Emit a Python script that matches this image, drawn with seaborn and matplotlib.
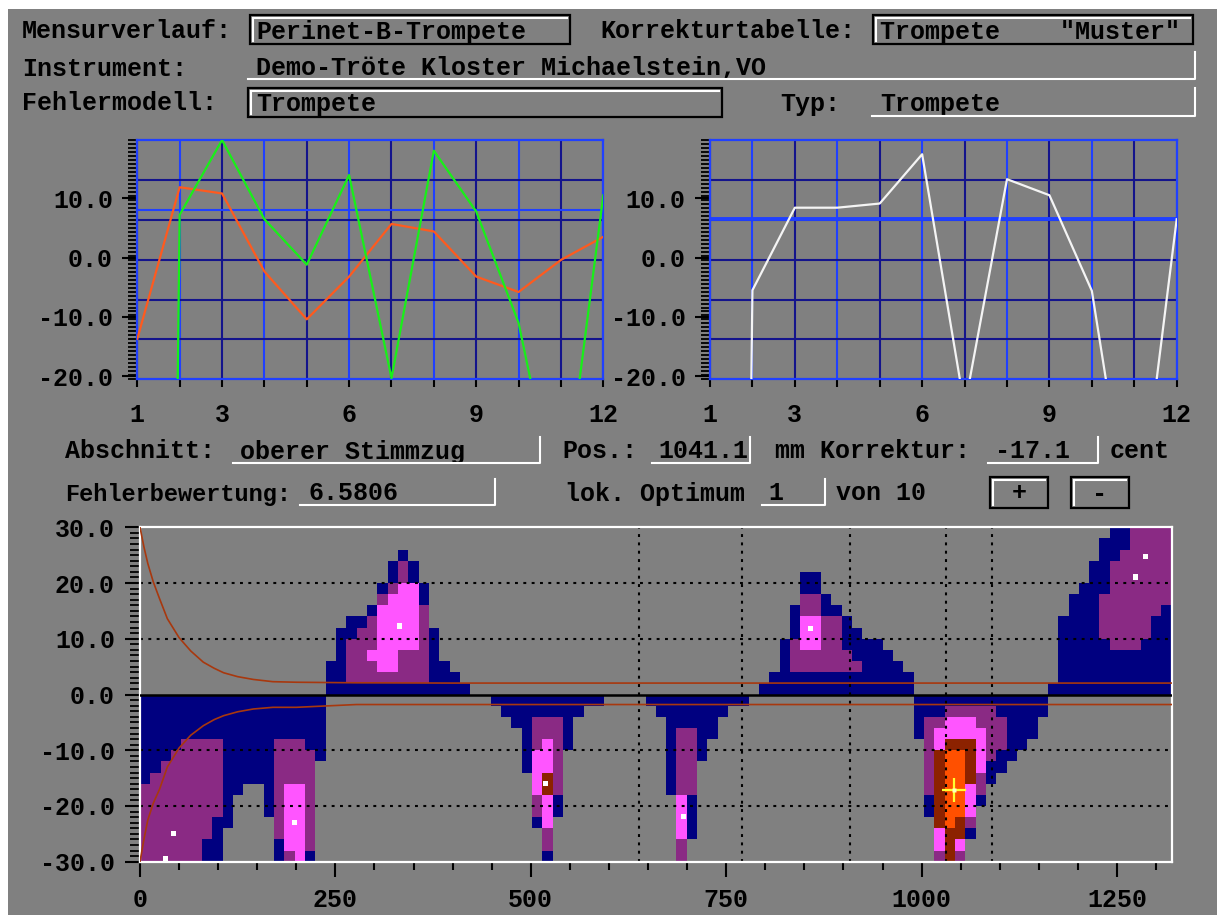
import numpy as np
import pandas as pd
import matplotlib
matplotlib.use("Agg")
import matplotlib.pyplot as plt
import seaborn as sns
from matplotlib.colors import ListedColormap
from matplotlib.lines import Line2D
from matplotlib.patches import Rectangle
from matplotlib.ticker import FixedLocator

plt.rcParams["font.family"] = ["Liberation Mono", "DejaVu Sans Mono"]
plt.rcParams["font.weight"] = "bold"
plt.rcParams["font.size"] = 18

# ---------------- top panels: deviation per partial (cent) ----------------
partials = list(range(1, 13))
dev_measured = [-13.7, 11.85, 10.8, -2.35, -10.4, -3.2, 5.67, 4.4, -3.2, -5.8, -0.4, 3.5]
dev_model = [-600.0, 7.2, 19.8, 6.46, -1.2, 13.9, -20.3, 18.0, 7.75, -11.0, -45.0, 10.5]
dev_corrected = [-600.0, -5.5, 8.4, 8.4, 9.1, 17.4, -25.2, 13.2, 10.5, -5.6, -50.6, 6.45]
measured_mean = 8.0
corrected_mean = 6.55
top_ylim = (-20.5, 19.8)
top_yticks = [-20, -10, 0, 10]
top_ylabels = ["-20.0", "-10.0", "0.0", "10.0"]
top_xlabels = ["1", "", "3", "", "", "6", "", "", "9", "", "", "12"]

# ---------------- bottom panel: error map (position mm x correction cent) ----------------
map_length_mm = 1320
map_cols = 100
map_rows = 30
map_cent_range = 30
level_colors = ["#808080", "#000080", "#8a2a84", "#ff55ff", "#8c2200", "#ff5000"]
# per column: (first row, last row, level); rows counted from +30 cent downwards
column_runs = {
    0: [(15, 22, 1), (23, 29, 2)],
    1: [(15, 21, 1), (22, 29, 2)],
    2: [(15, 20, 1), (21, 29, 2)],
    3: [(15, 19, 1), (20, 29, 2)],
    4: [(15, 18, 1), (19, 29, 2)],
    5: [(15, 18, 1), (19, 29, 2)],
    6: [(15, 18, 1), (19, 27, 2), (28, 29, 1)],
    7: [(15, 18, 1), (19, 25, 2), (26, 29, 1)],
    8: [(15, 26, 1)],
    9: [(15, 23, 1)],
    10: [(15, 22, 1)],
    11: [(15, 22, 1)],
    12: [(15, 25, 1)],
    13: [(15, 18, 1), (19, 27, 2), (28, 29, 1)],
    14: [(15, 18, 1), (19, 22, 2), (23, 28, 3), (29, 29, 2)],
    15: [(15, 18, 1), (19, 22, 2), (23, 29, 3)],
    16: [(15, 19, 1), (20, 28, 2), (29, 29, 1)],
    17: [(15, 20, 1)],
    18: [(12, 14, 1)],
    19: [(9, 14, 1)],
    20: [(8, 9, 1), (10, 13, 2), (14, 14, 1)],
    21: [(8, 8, 1), (9, 13, 2), (14, 14, 1)],
    22: [(7, 7, 1), (8, 10, 2), (11, 11, 3), (12, 13, 2), (14, 14, 1)],
    23: [(5, 5, 1), (6, 6, 2), (7, 12, 3), (13, 13, 2), (14, 14, 1)],
    24: [(3, 4, 1), (5, 5, 2), (6, 12, 3), (13, 13, 2), (14, 14, 1)],
    25: [(2, 2, 1), (3, 4, 2), (5, 10, 3), (11, 13, 2), (14, 14, 1)],
    26: [(3, 4, 1), (5, 10, 3), (11, 13, 2), (14, 14, 1)],
    27: [(5, 6, 1), (7, 13, 2), (14, 14, 1)],
    28: [(9, 14, 1)],
    29: [(12, 14, 1)],
    30: [(13, 14, 1)],
    31: [(14, 14, 1)],
    34: [(15, 15, 1)],
    35: [(15, 16, 1)],
    36: [(15, 17, 1)],
    37: [(15, 21, 1)],
    38: [(15, 16, 1), (17, 19, 2), (20, 23, 3), (24, 25, 2), (26, 26, 1)],
    39: [(15, 16, 1), (17, 18, 2), (19, 21, 3), (22, 23, 4), (24, 26, 3), (27, 28, 2), (29, 29, 1)],
    40: [(15, 16, 1), (17, 23, 2), (24, 25, 1)],
    41: [(15, 19, 1)],
    42: [(15, 16, 1)],
    43: [(15, 15, 1)],
    44: [(15, 15, 1)],
    49: [(15, 15, 1)],
    50: [(15, 16, 1)],
    51: [(15, 23, 1)],
    52: [(15, 17, 1), (18, 23, 2), (24, 27, 3), (28, 29, 2)],
    53: [(15, 17, 1), (18, 23, 2), (24, 27, 1)],
    54: [(15, 20, 1)],
    55: [(15, 18, 1)],
    56: [(15, 16, 1)],
    57: [(15, 15, 1)],
    58: [(15, 15, 1)],
    60: [(14, 14, 1)],
    61: [(13, 14, 1)],
    62: [(10, 14, 1)],
    63: [(7, 9, 1), (10, 12, 2), (13, 14, 1)],
    64: [(4, 5, 1), (6, 7, 2), (8, 10, 3), (11, 12, 2), (13, 14, 1)],
    65: [(4, 5, 1), (6, 7, 2), (8, 10, 3), (11, 12, 2), (13, 14, 1)],
    66: [(6, 7, 1), (8, 12, 2), (13, 14, 1)],
    67: [(7, 7, 1), (8, 12, 2), (13, 14, 1)],
    68: [(8, 10, 1), (11, 12, 2), (13, 14, 1)],
    69: [(9, 11, 1), (12, 12, 2), (13, 14, 1)],
    70: [(10, 14, 1)],
    71: [(10, 14, 1)],
    72: [(11, 14, 1)],
    73: [(12, 14, 1)],
    74: [(13, 14, 1)],
    75: [(15, 18, 1)],
    76: [(15, 16, 1), (17, 23, 2), (24, 25, 1)],
    77: [(15, 16, 1), (17, 17, 2), (18, 19, 3), (20, 26, 4), (27, 28, 3), (29, 29, 2)],
    78: [(15, 15, 1), (16, 16, 2), (17, 18, 3), (19, 19, 4), (20, 26, 5), (27, 29, 4)],
    79: [(15, 15, 1), (16, 16, 2), (17, 18, 3), (19, 19, 4), (20, 25, 5), (26, 27, 4), (28, 28, 3), (29, 29, 2)],
    80: [(15, 15, 1), (16, 16, 2), (17, 18, 3), (19, 22, 4), (23, 25, 3), (26, 26, 2), (27, 27, 1)],
    81: [(15, 15, 1), (16, 17, 2), (18, 21, 3), (22, 23, 2), (24, 24, 1)],
    82: [(15, 15, 1), (16, 20, 2), (21, 22, 1)],
    83: [(15, 16, 1), (17, 19, 2), (20, 21, 1)],
    84: [(15, 20, 1)],
    85: [(15, 19, 1)],
    86: [(15, 18, 1)],
    87: [(15, 16, 1)],
    88: [(14, 14, 1)],
    89: [(8, 14, 1)],
    90: [(6, 14, 1)],
    91: [(5, 14, 1)],
    92: [(3, 14, 1)],
    93: [(1, 5, 1), (6, 9, 2), (10, 14, 1)],
    94: [(0, 2, 1), (3, 10, 2), (11, 14, 1)],
    95: [(0, 1, 1), (2, 10, 2), (11, 14, 1)],
    96: [(0, 10, 2), (11, 14, 1)],
    97: [(0, 9, 2), (10, 14, 1)],
    98: [(0, 7, 2), (8, 14, 1)],
    99: [(0, 6, 2), (7, 14, 1)],
}
tolerance_pos = [0, 5, 10, 17, 25, 35, 50, 65, 81, 95, 107, 125, 145, 170, 200, 277, 400, 1320]
tolerance_upper = [30, 26.5, 23.5, 20.2, 17.2, 13.6, 10.2, 7.8, 5.8, 4.7, 3.9, 3.2, 2.7, 2.3, 2.2, 2.1, 2.05, 2.05]
tolerance_lower = [-30, -26, -22.5, -19.5, -17.0, -13.0, -9.6, -7.3, -5.6, -4.5, -3.8, -3.1, -2.6, -2.3, -2.3, -1.8, -1.8, -1.8]
optima_pos = [42.6, 32.8, 198, 332, 519, 695, 857.6, 1286, 1273.7]
optima_cent = [-25.0, -29.5, -22.9, 12.3, -15.9, -21.9, 11.9, 24.8, 21.1]
best_pos = 1041.1
best_cent = -17.1
section_bounds = [638.5, 770.7, 908.8, 1030.7, 1089.5]
map_xticks = [0, 250, 500, 750, 1000, 1250]
map_yticks = [-30, -20, -10, 0, 10, 20, 30]

# ---------------- form fields ----------------
W, H = 1217, 915
GRAY = "#808080"
FS = 18

fig = plt.figure(figsize=(W / 100, H / 100), dpi=100, facecolor="white")


def fx(x):
    return x / W


def fy(y):
    return 1 - y / H


fig.add_artist(Rectangle((fx(8), 0), 1 - fx(8), fy(9), transform=fig.transFigure,
                         facecolor=GRAY, edgecolor="none", zorder=-10))


def text(x, y, s, size=FS, **kw):
    fig.text(fx(x), fy(y), s, ha=kw.pop("ha", "left"), va="baseline",
             fontsize=size, color="black", **kw)


def line(xs, ys, color="white", lw=1.5):
    fig.add_artist(Line2D([fx(v) for v in xs], [fy(v) for v in ys],
                          transform=fig.transFigure, color=color, lw=lw, zorder=5))


def box(x0, y0, x1, y1):
    fig.add_artist(Rectangle((fx(x0), fy(y1)), fx(x1) - fx(x0), fy(y0) - fy(y1),
                             transform=fig.transFigure, fill=False,
                             edgecolor="black", lw=1.6, zorder=5))
    line([x0 + 3, x1 - 3], [y0 + 3, y0 + 3])
    line([x0 + 3, x0 + 3], [y0 + 3, y1 - 3])


def field(x0, x1, y_top, y_line):
    line([x0, x1, x1], [y_line, y_line, y_top])


# header rows
text(22, 38.5, "Mensurverlauf:")
box(250, 15, 570, 44)
text(256, 38.5, "Perinet-B-Trompete")
text(600, 38.5, "Korrekturtabelle:")
box(873, 15, 1193, 44)
text(880, 38.5, 'Trompete    "Muster"')

text(22, 75.5, "Instrument:")
field(248, 1195, 52, 79)
text(256, 75.5, "Demo-Tröte Kloster Michaelstein,VO")

text(22, 110.5, "Fehlermodell:")
box(248, 88, 722, 117)
text(256, 110.5, "Trompete")
text(780, 110.5, "Typ:")
field(872, 1195, 88, 116)
text(880, 110.5, "Trompete")

# middle rows
text(65, 458.5, "Abschnitt:")
field(233, 540, 437, 463)
text(240, 458.5, "oberer Stimmzug")
text(562, 458.5, "Pos.:")
field(652, 750, 437, 463)
text(658, 458.5, f"{best_pos:.1f}")
text(775, 458.5, "mm Korrektur:")
field(988, 1098, 437, 463)
text(995, 458.5, f"{best_cent:.1f}")
text(1110, 458.5, "cent")

text(65, 500.5, "Fehlerbewertung:", size=17)
field(300, 495, 479, 505)
text(308, 500.5, "6.5806")
text(565, 500.5, "lok. Optimum")
field(762, 825, 479, 505)
text(768, 500.5, "1")
text(836, 500.5, "von 10")
box(990, 477, 1048, 508)
text(1019, 500.5, "+", ha="center")
box(1071, 477, 1129, 508)
text(1100, 500.5, "-", ha="center")

# ---------------- top panels ----------------
BRIGHT = "#2040ff"
DARK = "#14148c"
top_df = pd.DataFrame({"Teilton": partials, "Messung": dev_measured,
                       "Modell": dev_model, "Korrigiert": dev_corrected})


def setup_top(ax, mean_val, mean_lw):
    ax.set_facecolor(GRAY)
    ax.set_xlim(1, 12)
    ax.set_ylim(*top_ylim)
    for p in partials:
        ax.axvline(p, color=BRIGHT if p % 2 == 0 else DARK, lw=1.5, zorder=1)
    for g in np.linspace(top_ylim[0], top_ylim[1], 7)[1:-1]:
        ax.axhline(g, color=DARK, lw=1.5, zorder=1)
    ax.axhline(mean_val, color=BRIGHT, lw=mean_lw, zorder=2)
    for s in ax.spines.values():
        s.set_color(BRIGHT)
        s.set_linewidth(1.6)
    ax.xaxis.set_major_locator(FixedLocator(partials))
    ax.set_xticklabels(top_xlabels)
    ax.yaxis.set_major_locator(FixedLocator(top_yticks))
    ax.set_yticklabels(top_ylabels)
    ax.yaxis.set_minor_locator(FixedLocator(np.linspace(top_ylim[0], top_ylim[1], 61)))
    ax.tick_params(axis="y", which="major", length=11, width=1.5, color="black", pad=6.5)
    ax.tick_params(axis="y", which="minor", length=6.5, width=1.3, color="black")
    ax.tick_params(axis="x", which="major", length=6, width=1.5, color="black", pad=11)


top_h = (379.3 - 140) / H
top_b = fy(379.3)
ax_l = fig.add_axes([fx(137.3), top_b, 466 / W, top_h])
setup_top(ax_l, measured_mean, 1.5)
sns.lineplot(data=top_df, x="Teilton", y="Messung", ax=ax_l, color="#ff5a1e",
             lw=1.6, estimator=None, sort=False, zorder=4)
sns.lineplot(data=top_df, x="Teilton", y="Modell", ax=ax_l, color="#18f018",
             lw=1.6, estimator=None, sort=False, zorder=4)
ax_l.set_xlabel("")
ax_l.set_ylabel("")

ax_r = fig.add_axes([fx(710), top_b, 466.7 / W, top_h])
setup_top(ax_r, corrected_mean, 2.8)
sns.lineplot(data=top_df, x="Teilton", y="Korrigiert", ax=ax_r, color="#f4f4f4",
             lw=1.6, estimator=None, sort=False, zorder=4)
ax_r.set_xlabel("")
ax_r.set_ylabel("")

# ---------------- bottom panel: error map ----------------
levels = np.zeros((map_rows, map_cols), dtype=int)
for col, runs in column_runs.items():
    for r0, r1, lev in runs:
        levels[r0:r1 + 1, col] = lev
cell_w = map_length_mm / map_cols
cell_h = 2 * map_cent_range / map_rows
level_df = pd.DataFrame(
    levels,
    index=np.round(map_cent_range - cell_h * (np.arange(map_rows) + 0.5), 1),
    columns=np.round(cell_w * (np.arange(map_cols) + 0.5), 1),
)

rect_b = [fx(140), fy(861.7), (1171.7 - 140) / W, (861.7 - 527.3) / H]
ax_h = fig.add_axes(rect_b)
sns.heatmap(level_df, ax=ax_h, cmap=ListedColormap(level_colors), vmin=-0.5,
            vmax=len(level_colors) - 0.5, cbar=False, xticklabels=False,
            yticklabels=False)
ax_h.set_axis_off()

ax_b = fig.add_axes(rect_b, facecolor="none")
ax_b.set_xlim(0, map_length_mm)
ax_b.set_ylim(-map_cent_range, map_cent_range)
dots = (0, (1.4, 2.6))
for g in [-20, -10, 10, 20]:
    ax_b.axhline(g, color="black", lw=1.5, ls=dots, zorder=2)
for sb in section_bounds:
    ax_b.axvline(sb, color="black", lw=1.5, ls=dots, zorder=2)
ax_b.axhline(0, color="black", lw=1.8, zorder=3)

tol_df = pd.DataFrame({"pos": tolerance_pos, "upper": tolerance_upper,
                       "lower": tolerance_lower})
sns.lineplot(data=tol_df, x="pos", y="upper", ax=ax_b, color="#a8380e", lw=1.2,
             estimator=None, zorder=4)
sns.lineplot(data=tol_df, x="pos", y="lower", ax=ax_b, color="#a8380e", lw=1.2,
             estimator=None, zorder=4)
opt_df = pd.DataFrame({"pos": optima_pos, "cent": optima_cent})
sns.scatterplot(data=opt_df, x="pos", y="cent", ax=ax_b, marker="s", s=14,
                color="white", edgecolor="none", zorder=5, clip_on=True)
ax_b.plot([best_pos], [best_cent], marker="+", ms=17, mew=1.6, color="#ffff30",
          zorder=6)
ax_b.plot([best_pos], [best_cent], marker="s", ms=3, color="#ffffc0", mec="none",
          zorder=7)

for s in ax_b.spines.values():
    s.set_color("white")
    s.set_linewidth(1.6)
ax_b.xaxis.set_major_locator(FixedLocator(map_xticks))
ax_b.set_xticklabels([str(v) for v in map_xticks])
ax_b.xaxis.set_minor_locator(FixedLocator(np.arange(0, map_length_mm + 1, 50)))
ax_b.yaxis.set_major_locator(FixedLocator(map_yticks))
ax_b.set_yticklabels([f"{v:.1f}" for v in map_yticks])
ax_b.yaxis.set_minor_locator(FixedLocator(np.arange(-30, 31, 1)))
ax_b.tick_params(axis="y", which="major", length=11, width=1.5, color="black", pad=7)
ax_b.tick_params(axis="y", which="minor", length=7, width=1.3, color="black")
ax_b.tick_params(axis="x", which="major", length=11, width=1.5, color="black", pad=8)
ax_b.tick_params(axis="x", which="minor", length=6, width=1.5, color="black")
ax_b.set_xlabel("")
ax_b.set_ylabel("")

fig.savefig("out.png", dpi=100, facecolor="white")
